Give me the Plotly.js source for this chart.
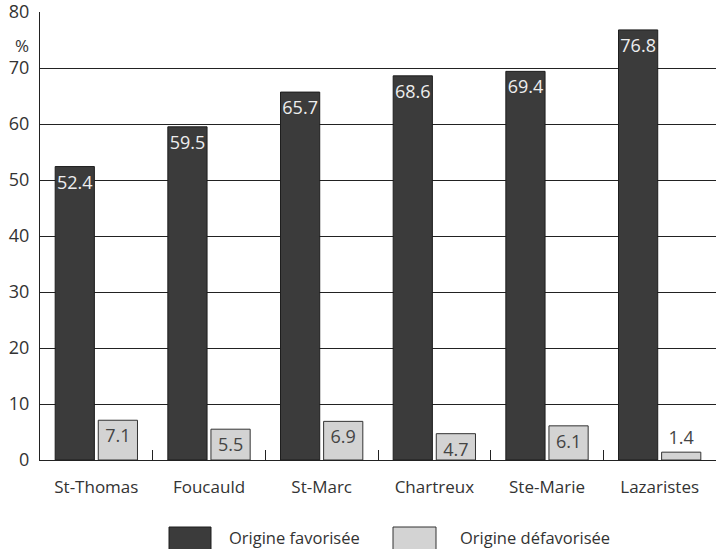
<!DOCTYPE html>
<html>
<head>
<meta charset="utf-8">
<script src="https://cdn.plot.ly/plotly-3.0.1.min.js"></script>
<style>html,body{margin:0;padding:0;background:#fff;}#chart{width:716px;height:549px;}</style>
</head>
<body>
<div id="chart"></div>
<script>
const categories = ["St-Thomas", "Foucauld", "St-Marc", "Chartreux", "Ste-Marie", "Lazaristes"];
const favorisee = [52.4, 59.5, 65.7, 68.6, 69.4, 76.8];
const defavorisee = [7.1, 5.5, 6.9, 4.7, 6.1, 1.4];
const seriesNames = ["Origine favorisée", "Origine défavorisée"];
const yTicks = [0, 10, 20, 30, 40, 50, 60, 70, 80];

const FONT = "Open Sans, Noto Sans, sans-serif";
const TXT = "#333333";
const pos = vals => vals.map(v => (v >= 3 ? "inside" : "outside"));

const traces = [
  {
    type: "bar", name: seriesNames[0], x: categories, y: favorisee,
    text: favorisee.map(v => v.toFixed(1)), textposition: pos(favorisee),
    insidetextanchor: "end", textangle: 0, constraintext: "none",
    insidetextfont: {family: FONT, size: 18, color: "#eeeeee"},
    outsidetextfont: {family: FONT, size: 18, color: TXT},
    marker: {color: "#3b3b3b", line: {color: "#1e1e1e", width: 1}},
    showlegend: false, hoverinfo: "none", cliponaxis: false
  },
  {
    type: "bar", name: seriesNames[1], x: categories, y: defavorisee,
    text: defavorisee.map(v => v.toFixed(1)), textposition: pos(defavorisee),
    insidetextanchor: "end", textangle: 0, constraintext: "none",
    insidetextfont: {family: FONT, size: 18, color: "#444444"},
    outsidetextfont: {family: FONT, size: 18, color: "#444444"},
    marker: {color: "#d3d3d3", line: {color: "#333333", width: 1}},
    showlegend: false, hoverinfo: "none", cliponaxis: false
  }
];

const x0 = 40, x1 = 716, yTop = 12, yBot = 460;
const px = v => (v - x0) / (x1 - x0);
const py = v => (yBot - v) / (yBot - yTop);

const layout = {
  width: 716, height: 549,
  margin: {l: 40, r: 0, t: 12, b: 89, pad: 0},
  paper_bgcolor: "#ffffff", plot_bgcolor: "#ffffff",
  font: {family: FONT, size: 17, color: TXT},
  barmode: "group", bargap: 0.235, bargroupgap: 0.09,
  xaxis: {
    type: "category", showline: true, linecolor: "#222222", linewidth: 1,
    ticks: "inside", tickson: "boundaries", ticklen: 10, tickcolor: "#222222",
    showgrid: false, ticklabelstandoff: 12,
    tickfont: {family: FONT, size: 17, color: TXT}
  },
  yaxis: {
    range: [0, 80], tickvals: yTicks, ticktext: yTicks.map(String),
    showgrid: true, gridcolor: "#222222", gridwidth: 1,
    showline: true, linecolor: "#222222", linewidth: 1,
    zeroline: false, ticks: "", ticklabelstandoff: 6, ticklabeloverflow: "allow",
    tickfont: {family: FONT, size: 18, color: TXT}
  },
  shapes: [
    {type: "rect", xref: "paper", yref: "paper", x0: px(169), x1: px(211), y0: py(527), y1: py(552),
     fillcolor: "#3b3b3b", line: {color: "#1e1e1e", width: 1}},
    {type: "rect", xref: "paper", yref: "paper", x0: px(393), x1: px(436), y0: py(527), y1: py(552),
     fillcolor: "#d3d3d3", line: {color: "#333333", width: 1}}
  ],
  annotations: [
    {text: "%", xref: "paper", yref: "paper", x: px(22), y: py(45), xanchor: "center", yanchor: "middle",
     showarrow: false, font: {family: FONT, size: 17, color: TXT}},
    {text: seriesNames[0], xref: "paper", yref: "paper", x: px(227), y: py(537), xanchor: "left", yanchor: "middle",
     showarrow: false, font: {family: FONT, size: 16.5, color: TXT}},
    {text: seriesNames[1], xref: "paper", yref: "paper", x: px(458), y: py(537), xanchor: "left", yanchor: "middle",
     showarrow: false, font: {family: FONT, size: 16.5, color: TXT}}
  ]
};

Plotly.newPlot("chart", traces, layout, {displayModeBar: false, staticPlot: true});
</script>
</body>
</html>
